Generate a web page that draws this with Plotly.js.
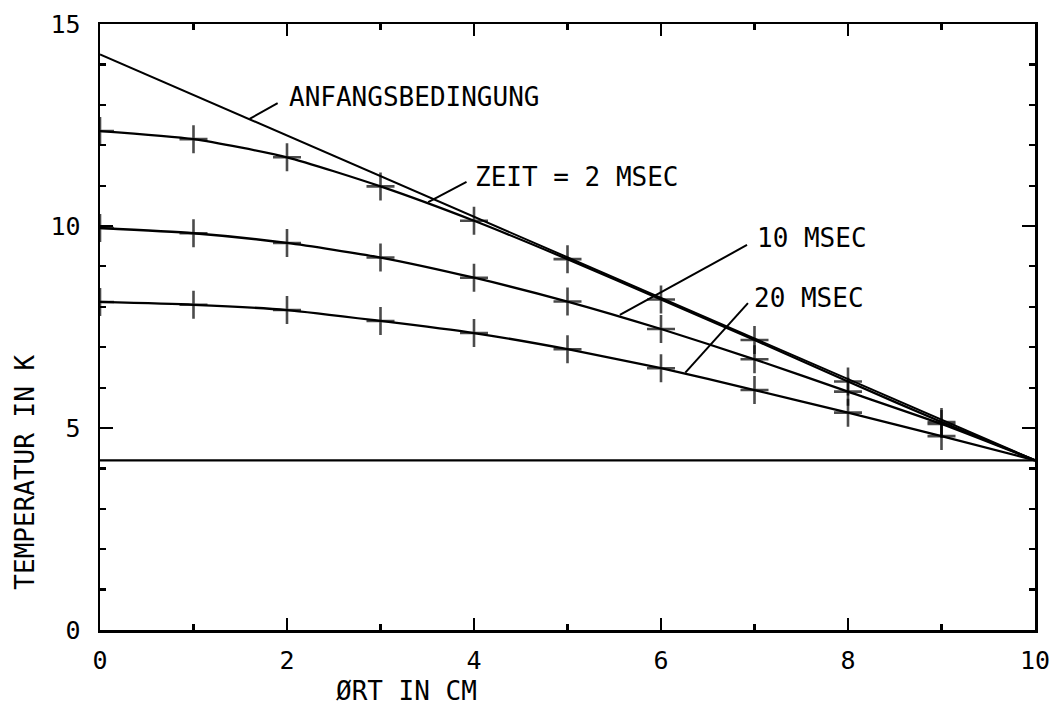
<!DOCTYPE html>
<html>
<head>
<meta charset="utf-8">
<script src="https://cdn.plot.ly/plotly-3.0.1.min.js"></script>
<style>html,body{margin:0;padding:0;background:#fff;}#chart{width:1052px;height:707px;}</style>
</head>
<body>
<div id="chart"></div>
<script>
// Data
const ort = [0, 1, 2, 3, 4, 5, 6, 7, 8, 9, 10];
const zeit2ms = [12.35, 12.15, 11.7, 10.98, 10.13, 9.18, 8.18, 7.18, 6.15, 5.15, 4.2];
const zeit10ms = [9.95, 9.82, 9.58, 9.22, 8.72, 8.13, 7.45, 6.7, 5.9, 5.1, 4.2];
const zeit20ms = [8.12, 8.05, 7.92, 7.65, 7.35, 6.95, 6.48, 5.94, 5.38, 4.8, 4.2];
const anfangX = [0, 10];
const anfangY = [14.25, 4.2];
const baseX = [0, 10];
const baseY = [4.2, 4.2];
const xTicks = [0, 2, 4, 6, 8, 10];
const yTicks = [0, 5, 10, 15];
const labels = ["ANFANGSBEDINGUNG", "ZEIT = 2 MSEC", "10 MSEC", "20 MSEC"];
const xTitle = "ØRT IN CM";
const yTitle = "TEMPERATUR IN K";

const FONT = "DejaVu Sans Mono, monospace";
const markerSizes = ort.map((v, i) => i < ort.length - 1 ? 20 : 0);

function curve(y) {
  return {
    x: ort, y: y, type: 'scatter', mode: 'lines+markers',
    line: {color: '#000', width: 2.3, shape: 'spline', smoothing: 0.6},
    marker: {symbol: 'cross-thin', size: markerSizes, color: '#000', line: {color: '#000', width: 2.6}},
    hoverinfo: 'skip', showlegend: false
  };
}

const traces = [
  {x: baseX, y: baseY, type: 'scatter', mode: 'lines', line: {color: '#000', width: 2.2}, showlegend: false},
  {x: anfangX, y: anfangY, type: 'scatter', mode: 'lines', line: {color: '#000', width: 2}, showlegend: false},
  curve(zeit2ms), curve(zeit10ms), curve(zeit20ms)
];

const lineStyle = {color: '#000', width: 2};
const layout = {
  width: 1052, height: 707,
  margin: {l: 100, r: 17, t: 24, b: 77},
  paper_bgcolor: '#fff', plot_bgcolor: '#fff',
  font: {family: FONT, color: '#000', size: 24},
  showlegend: false,
  xaxis: {
    range: [0, 10], tickvals: xTicks, ticktext: xTicks.map(String),
    ticks: 'inside', ticklen: 12, tickwidth: 2.2, tickcolor: '#000',
    showline: true, linewidth: 2.5, linecolor: '#000', mirror: 'ticks',
    showgrid: false, zeroline: false,
    minor: {dtick: 1, ticks: 'inside', ticklen: 6, tickwidth: 2.2, tickcolor: '#000', showgrid: false},
    tickfont: {family: FONT, size: 25}, ticklabelstandoff: 6
  },
  yaxis: {
    range: [0, 15], tickvals: yTicks, ticktext: yTicks.map(String),
    ticks: 'inside', ticklen: 13, tickwidth: 2.2, tickcolor: '#000',
    showline: true, linewidth: 2.5, linecolor: '#000', mirror: 'ticks',
    showgrid: false, zeroline: false,
    minor: {dtick: 1, ticks: 'inside', ticklen: 6, tickwidth: 2.2, tickcolor: '#000', showgrid: false},
    tickfont: {family: FONT, size: 25}, ticklabelstandoff: 12
  },
  annotations: [
    {x: 2.0, y: 13.19, xref: 'x', yref: 'y', text: labels[0], showarrow: false, xanchor: 'left', yanchor: 'middle', font: {family: FONT, size: 26}},
    {x: 3.99, y: 11.21, xref: 'x', yref: 'y', text: labels[1], showarrow: false, xanchor: 'left', yanchor: 'middle', font: {family: FONT, size: 26}},
    {x: 7.0, y: 9.70, xref: 'x', yref: 'y', text: labels[2], showarrow: false, xanchor: 'left', yanchor: 'middle', font: {family: FONT, size: 26}},
    {x: 6.97, y: 8.22, xref: 'x', yref: 'y', text: labels[3], showarrow: false, xanchor: 'left', yanchor: 'middle', font: {family: FONT, size: 26}},
    {x: 3.28, y: -0.1, xref: 'x', yref: 'paper', text: xTitle, showarrow: false, xanchor: 'center', yanchor: 'middle', font: {family: FONT, size: 26}},
    {x: -0.08, y: 3.9, xref: 'paper', yref: 'y', text: yTitle, showarrow: false, textangle: -90, xanchor: 'center', yanchor: 'middle', font: {family: FONT, size: 26}}
  ],
  shapes: [
    {type: 'line', xref: 'x', yref: 'y', x0: 1.6, y0: 12.65, x1: 1.9, y1: 13.04, line: lineStyle},
    {type: 'line', xref: 'x', yref: 'y', x0: 3.51, y0: 10.59, x1: 3.92, y1: 11.09, line: lineStyle},
    {type: 'line', xref: 'x', yref: 'y', x0: 5.56, y0: 7.8, x1: 6.92, y1: 9.53, line: lineStyle},
    {type: 'line', xref: 'x', yref: 'y', x0: 6.26, y0: 6.37, x1: 6.93, y1: 8.09, line: lineStyle}
  ]
};

Plotly.newPlot('chart', traces, layout, {staticPlot: true, displayModeBar: false});
</script>
</body>
</html>
